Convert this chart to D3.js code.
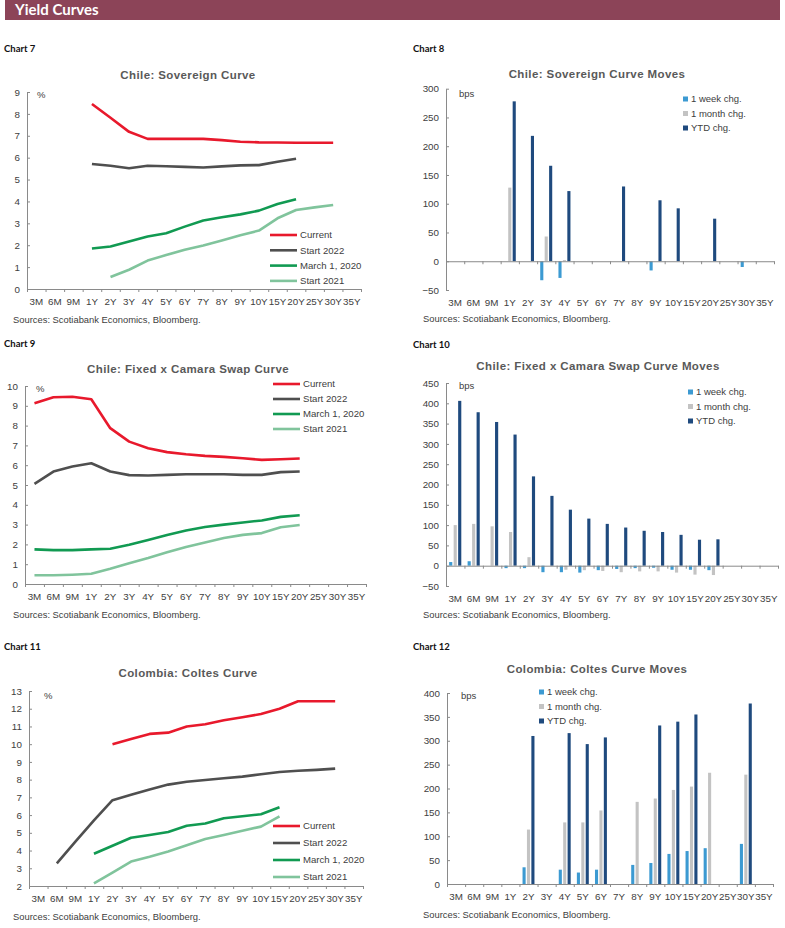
<!DOCTYPE html>
<html>
<head>
<meta charset="utf-8">
<script src="https://cdn.jsdelivr.net/npm/d3@7"></script>
<style>
  body { margin: 0; background: #fff; }
  svg { display: block; }
</style>
</head>
<body>
<div id="page"></div>
<script>
// tenors shared by all six charts
const tenors = ['3M', '6M', '9M', '1Y', '2Y', '3Y', '4Y', '5Y', '6Y', '7Y', '8Y', '9Y', '10Y', '15Y', '20Y', '25Y', '30Y', '35Y'];
const curveNames = ['Current', 'Start 2022', 'March 1, 2020', 'Start 2021'];
const moveNames = ['1 week chg.', '1 month chg.', 'YTD chg.'];

// Chart 7 - Chile sovereign curve (%)
const chSovCurrent = [null, null, null, 8.45, 7.82, 7.18, 6.86, 6.86, 6.86, 6.86, 6.80, 6.73, 6.70, 6.69, 6.68, 6.68, 6.68, null];
const chSov2022 = [null, null, null, 5.71, 5.63, 5.52, 5.63, 5.61, 5.58, 5.55, 5.60, 5.65, 5.66, 5.81, 5.95, null, null, null];
const chSov2020 = [null, null, null, 1.85, 1.94, 2.17, 2.40, 2.55, 2.85, 3.13, 3.28, 3.41, 3.58, 3.88, 4.10, null, null, null];
const chSov2021 = [null, null, null, null, 0.55, 0.88, 1.30, 1.55, 1.79, 1.99, 2.22, 2.46, 2.67, 3.23, 3.61, 3.73, 3.84, null];

// Chart 8 - Chile sovereign curve moves (bps)
const chSovWeek = [null, null, null, null, null, -33, -29, null, null, null, null, -16, null, null, null, null, -10, null];
const chSovMonth = [null, null, null, 128, null, 43, 2, null, null, null, null, null, null, null, null, null, null, null];
const chSovYtd = [null, null, null, 278, 218, 166, 122, null, null, 130, null, 106, 92, null, 74, null, null, null];

// Chart 9 - Chile fixed x camara swap curve (%)
const chSwpCurrent = [9.13, 9.43, 9.46, 9.33, 7.87, 7.19, 6.86, 6.66, 6.55, 6.47, 6.42, 6.35, 6.27, 6.30, 6.34, null, null, null];
const chSwp2022 = [5.06, 5.68, 5.93, 6.10, 5.68, 5.50, 5.48, 5.51, 5.54, 5.54, 5.54, 5.51, 5.51, 5.65, 5.68, null, null, null];
const chSwp2020 = [1.75, 1.71, 1.71, 1.75, 1.78, 1.98, 2.22, 2.48, 2.70, 2.88, 3.00, 3.11, 3.21, 3.39, 3.47, null, null, null];
const chSwp2021 = [0.44, 0.44, 0.47, 0.52, 0.77, 1.05, 1.31, 1.60, 1.87, 2.10, 2.32, 2.48, 2.57, 2.87, 2.98, null, null, null];

// Chart 10 - Chile swap curve moves (bps)
const chSwpWeek = [9, 11, null, -6, -6, -16, -16, -17, -11, -8, -6, -5, -10, -10, -11, null, null, null];
const chSwpMonth = [100, 103, 97, 83, 21, null, -10, -11, -13, -16, -14, -14, -17, -22, -23, null, null, null];
const chSwpYtd = [406, 378, 354, 323, 220, 172, 138, 116, 103, 94, 86, 83, 76, 64, 65, null, null, null];

// Chart 11 - Colombia coltes curve (%)
const coCurrent = [null, null, null, null, 10.0, 10.29, 10.58, 10.65, 11.0, 11.12, 11.35, 11.52, 11.70, 12.0, 12.42, 12.42, 12.42, null];
const co2022 = [null, 3.28, 4.5, 5.7, 6.84, 7.15, 7.45, 7.72, 7.88, 7.98, 8.08, 8.17, 8.30, 8.43, 8.50, 8.55, 8.62, null];
const co2020 = [null, null, null, 3.82, 4.27, 4.72, 4.88, 5.05, 5.40, 5.53, 5.82, 5.93, 6.05, 6.44, null, null, null, null];
const co2021 = [null, null, null, 2.15, 2.76, 3.38, 3.65, 3.95, 4.30, 4.65, 4.88, 5.12, 5.35, 5.93, null, null, null, null];

// Chart 12 - Colombia coltes curve moves (bps)
const coWeek = [null, null, null, null, 35, null, 30, 24, 30, null, 40, 44, 63, 69, 75, null, 84, null];
const coMonth = [null, null, null, null, 114, null, 129, 129, 154, null, 172, 179, 197, 204, 233, null, 229, null];
const coYtd = [null, null, null, null, 310, null, 316, 293, 307, null, null, 332, 340, 355, null, null, 378, null];

const lineColors = ['#e8192c', '#4f4f4f', '#119a52', '#80c49c'];
const barColors = ['#3c9ad2', '#c3c3c3', '#1f4a7e'];
const axisColor = '#8a8a8a';
const textColor = '#404040';
const font = "'Liberation Sans', Arial, sans-serif";

const svg = d3.select('#page').append('svg')
    .attr('width', 785)
    .attr('height', 928);

// header band
svg.append('rect')
    .attr('x', 5).attr('y', 0)
    .attr('width', 775).attr('height', 20)
    .attr('fill', '#8c4458');
svg.append('text')
    .attr('x', 15).attr('y', 15)
    .style('font-family', 'Lato, sans-serif')
    .style('font-weight', 'bold')
    .style('font-size', '15px')
    .style('fill', '#fff')
    .text('Yield Curves');

function frame(o) {
    svg.append('text')
        .attr('x', o.labelX).attr('y', o.labelY)
        .style('font-family', 'Lato, sans-serif')
        .style('font-weight', 'bold')
        .style('font-size', '9.5px')
        .style('fill', '#111')
        .text(o.label);

    svg.append('text')
        .attr('x', o.titleX).attr('y', o.titleY)
        .attr('text-anchor', 'middle')
        .style('font-family', font)
        .style('font-weight', 'bold')
        .style('font-size', '11.5px')
        .style('letter-spacing', '0.4px')
        .style('fill', '#595959')
        .text(o.title);

    svg.append('text')
        .attr('x', o.srcX).attr('y', o.srcY)
        .style('font-family', font)
        .style('font-size', '9.4px')
        .style('fill', textColor)
        .text('Sources: Scotiabank Economics, Bloomberg.');
}

function styleAxis(g) {
    g.selectAll('path, line').attr('stroke', axisColor);
    g.selectAll('text')
        .style('font-family', font)
        .style('font-size', '9.8px')
        .style('fill', textColor);
}

function axes(o, x, y, axisY, labelY) {
    // y axis, ticks pointing inwards
    svg.append('g')
        .attr('transform', `translate(${o.x0},0)`)
        .call(d3.axisLeft(y).tickValues(o.yTicks).tickSize(-3).tickSizeOuter(0).tickPadding(7))
        .call(styleAxis);

    // x axis line with ticks at the category boundaries
    const edges = d3.scaleLinear().domain([0, tenors.length]).range([o.x0, o.x1]);
    svg.append('g')
        .attr('transform', `translate(0,${axisY})`)
        .call(d3.axisBottom(edges).tickValues(d3.range(tenors.length + 1)).tickFormat('').tickSize(3).tickSizeOuter(0))
        .call(styleAxis);

    // category labels
    const lab = svg.append('g')
        .attr('transform', `translate(0,${labelY})`)
        .call(d3.axisBottom(x).tickSize(0).tickPadding(0))
        .call(styleAxis);
    lab.select('.domain').remove();
    lab.selectAll('text').attr('dy', '0.35em');

    svg.append('text')
        .attr('x', o.unitX).attr('y', o.unitY)
        .style('font-family', font)
        .style('font-size', '9.5px')
        .style('fill', textColor)
        .text(o.unit);
}

function lineChart(o) {
    frame(o);
    const x = d3.scaleBand().domain(tenors).range([o.x0, o.x1]);
    const y = d3.scaleLinear().domain(o.yDomain).range([o.yBottom, o.yTop]);
    axes(o, x, y, o.yBottom, o.yBottom + 12.5);

    const line = d3.line()
        .defined(d => d.v !== null)
        .x(d => x(d.t) + x.bandwidth() / 2)
        .y(d => y(d.v));

    o.series.forEach((s, i) => {
        svg.append('path')
            .datum(tenors.map((t, j) => ({ t: t, v: s[j] })))
            .attr('d', line)
            .attr('fill', 'none')
            .attr('stroke', lineColors[i])
            .attr('stroke-width', 2.6)
            .attr('stroke-linejoin', 'round');
    });

    const leg = svg.append('g').attr('transform', `translate(${o.legX},${o.legY})`);
    curveNames.forEach((n, i) => {
        const row = leg.append('g').attr('transform', `translate(0,${i * o.legStep})`);
        row.append('line')
            .attr('x1', 0).attr('x2', 27)
            .attr('stroke', lineColors[i])
            .attr('stroke-width', 2.6);
        row.append('text')
            .attr('x', 30).attr('dy', '0.35em')
            .style('font-family', font)
            .style('font-size', '9.6px')
            .style('fill', textColor)
            .text(n);
    });
}

function barChart(o) {
    frame(o);
    const x = d3.scaleBand().domain(tenors).range([o.x0, o.x1]);
    const sub = d3.scaleBand().domain(moveNames).range([0, x.bandwidth()])
        .paddingInner(0.3).paddingOuter(0.7);
    const y = d3.scaleLinear().domain(o.yDomain).range([o.yBottom, o.yTop]);

    o.series.forEach((s, i) => {
        svg.append('g').selectAll('rect')
            .data(tenors.map((t, j) => ({ t: t, v: s[j] })).filter(d => d.v !== null))
            .join('rect')
            .attr('x', d => x(d.t) + sub(moveNames[i]))
            .attr('width', sub.bandwidth())
            .attr('y', d => y(Math.max(0, d.v)))
            .attr('height', d => Math.abs(y(d.v) - y(0)))
            .attr('fill', barColors[i]);
    });

    axes(o, x, y, y(0), o.yBottom + 13);

    const leg = svg.append('g').attr('transform', `translate(${o.legX},${o.legY})`);
    moveNames.forEach((n, i) => {
        const row = leg.append('g').attr('transform', `translate(0,${i * o.legStep})`);
        row.append('rect')
            .attr('x', 0).attr('y', -2.5)
            .attr('width', 5).attr('height', 5)
            .attr('fill', barColors[i]);
        row.append('text')
            .attr('x', 8).attr('dy', '0.35em')
            .style('font-family', font)
            .style('font-size', '9.5px')
            .style('fill', textColor)
            .text(n);
    });
}

lineChart({
    label: 'Chart 7', labelX: 4, labelY: 52,
    title: 'Chile: Sovereign Curve', titleX: 188, titleY: 79,
    srcX: 13, srcY: 323,
    x0: 27, x1: 361, yTop: 92, yBottom: 289,
    yDomain: [0, 9], yTicks: d3.range(0, 10, 1),
    unit: '%', unitX: 37, unitY: 98,
    series: [chSovCurrent, chSov2022, chSov2020, chSov2021],
    legX: 270, legY: 235, legStep: 15.3
});

barChart({
    label: 'Chart 8', labelX: 413, labelY: 52,
    title: 'Chile: Sovereign Curve Moves', titleX: 597, titleY: 78,
    srcX: 423, srcY: 322,
    x0: 446, x1: 774, yTop: 88.7, yBottom: 290,
    yDomain: [-50, 300], yTicks: d3.range(-50, 301, 50),
    unit: 'bps', unitX: 459, unitY: 97,
    series: [chSovWeek, chSovMonth, chSovYtd],
    legX: 683, legY: 99, legStep: 14.5
});

lineChart({
    label: 'Chart 9', labelX: 4, labelY: 347,
    title: 'Chile: Fixed x Camara Swap Curve', titleX: 188, titleY: 373,
    srcX: 13, srcY: 618,
    x0: 25, x1: 366, yTop: 386, yBottom: 584,
    yDomain: [0, 10], yTicks: d3.range(0, 11, 1),
    unit: '%', unitX: 36, unitY: 392,
    series: [chSwpCurrent, chSwp2022, chSwp2020, chSwp2021],
    legX: 273, legY: 384, legStep: 15
});

barChart({
    label: 'Chart 10', labelX: 413, labelY: 348,
    title: 'Chile: Fixed x Camara Swap Curve Moves', titleX: 598, titleY: 370,
    srcX: 423, srcY: 618,
    x0: 446, x1: 778, yTop: 383, yBottom: 586,
    yDomain: [-50, 450], yTicks: d3.range(-50, 451, 50),
    unit: 'bps', unitX: 459, unitY: 389,
    series: [chSwpWeek, chSwpMonth, chSwpYtd],
    legX: 688, legY: 392, legStep: 14.5
});

lineChart({
    label: 'Chart 11', labelX: 4, labelY: 650,
    title: 'Colombia: Coltes Curve', titleX: 188, titleY: 677,
    srcX: 13, srcY: 920,
    x0: 29, x1: 363, yTop: 691, yBottom: 886,
    yDomain: [2, 13], yTicks: d3.range(2, 14, 1),
    unit: '%', unitX: 44, unitY: 699,
    series: [coCurrent, co2022, co2020, co2021],
    legX: 273, legY: 826, legStep: 17
});

barChart({
    label: 'Chart 12', labelX: 413, labelY: 650,
    title: 'Colombia: Coltes Curve Moves', titleX: 597, titleY: 673,
    srcX: 423, srcY: 918,
    x0: 447, x1: 773, yTop: 693, yBottom: 884,
    yDomain: [0, 400], yTicks: d3.range(0, 401, 50),
    unit: 'bps', unitX: 461, unitY: 699,
    series: [coWeek, coMonth, coYtd],
    legX: 539, legY: 692, legStep: 14.5
});
</script>
</body>
</html>
